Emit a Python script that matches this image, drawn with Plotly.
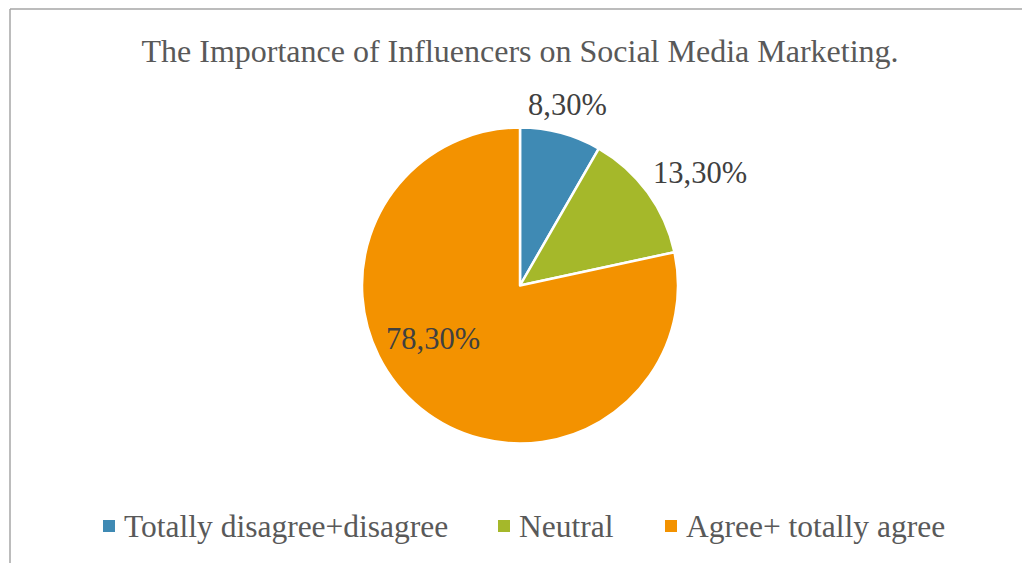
import plotly.graph_objects as go

# Survey answers and their shares (percent)
categories = ["Totally disagree+disagree", "Neutral", "Agree+ totally agree"]
shares = [8.3, 13.3, 78.3]
colors = ["#3F8AB4", "#A5B82A", "#F39200"]
title_text = "The Importance of Influencers on Social Media Marketing."

W, H = 1022, 563
FONT = "Liberation Serif, Times New Roman, serif"


def pct(v):
    return f"{v:.2f}".replace(".", ",") + "%"


def px_x(x):
    return x / W


def px_y(y):
    return (H - y) / H


fig = go.Figure(
    go.Pie(
        labels=categories,
        values=shares,
        sort=False,
        direction="clockwise",
        rotation=0,
        marker=dict(colors=colors, line=dict(color="white", width=2.5)),
        textinfo="none",
        hoverinfo="label+percent",
        showlegend=False,
        domain=dict(x=[px_x(362), px_x(678)], y=[px_y(443.5), px_y(127.5)]),
    )
)

# Data labels next to each slice
label_pos = [(567, 105), (700, 173), (433, 339)]
for v, (lx, ly) in zip(shares, label_pos):
    fig.add_annotation(
        x=px_x(lx), y=px_y(ly), xref="paper", yref="paper",
        text=pct(v), showarrow=False, xanchor="center", yanchor="middle",
        font=dict(family=FONT, size=30.5, color="#404040"),
    )

# Legend row along the bottom: colour square followed by the category name
legend_x = [103, 498, 665]
legend_y = 526
for name, col, lx in zip(categories, colors, legend_x):
    fig.add_shape(type="rect", xref="paper", yref="paper",
                  x0=px_x(lx), x1=px_x(lx + 12),
                  y0=px_y(legend_y + 6), y1=px_y(legend_y - 6),
                  fillcolor=col, line=dict(width=0))
    fig.add_annotation(
        x=px_x(lx + 19), y=px_y(legend_y), xref="paper", yref="paper",
        text=name, showarrow=False, xanchor="left", yanchor="middle",
        font=dict(family=FONT, size=31.5, color="#595959"),
    )

# Chart frame
frame = dict(color="#A6A6A6", width=1.5)
fig.add_shape(type="line", xref="paper", yref="paper",
              x0=px_x(10), x1=1.0, y0=px_y(9), y1=px_y(9), line=frame)
fig.add_shape(type="line", xref="paper", yref="paper",
              x0=px_x(10), x1=px_x(10), y0=0, y1=px_y(9), line=frame)

fig.update_layout(
    width=W, height=H,
    margin=dict(l=0, r=0, t=0, b=0, pad=0),
    paper_bgcolor="white", plot_bgcolor="white",
    title=dict(text=title_text, x=px_x(520), xanchor="center", xref="container",
               y=px_y(51), yanchor="middle", yref="container",
               font=dict(family=FONT, size=32, color="#595959")),
)

fig.write_html("out.html")
